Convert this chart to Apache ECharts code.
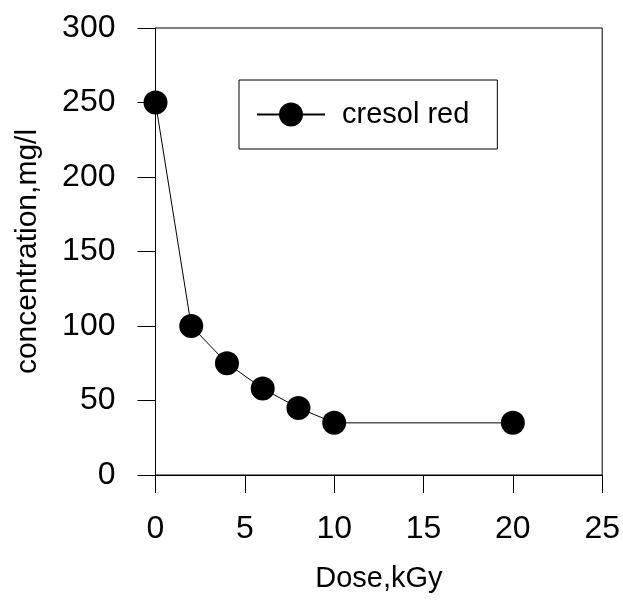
<!DOCTYPE html>
<html>
<head>
<meta charset="utf-8">
<script src="https://cdn.jsdelivr.net/npm/echarts@6/dist/echarts.min.js"></script>
<style>html,body{margin:0;padding:0;background:#fff;}#c{width:623px;height:601px;}</style>
</head>
<body>
<div id="c"></div>
<script>
const doseValues = [0, 2, 4, 6, 8, 10, 20];
const concentrationValues = [250, 100, 75, 58, 45, 35, 35];
const seriesName = 'cresol red';
const xTitle = 'Dose,kGy';
const yTitle = 'concentration,mg/l';

const FONT = '"Liberation Sans", Arial, sans-serif';
const chart = echarts.init(document.getElementById('c'));
chart.setOption({
  animation: false,
  backgroundColor: '#fff',
  grid: { left: 155.5, right: 20, top: 28, bottom: 126, show: true, borderColor: '#000', borderWidth: 1, backgroundColor: 'transparent' },
  legend: {
    left: 239, top: 80,
    orient: 'vertical',
    borderColor: '#000', borderWidth: 1, borderRadius: 0,
    padding: [20, 28, 20, 17],
    itemWidth: 68, itemHeight: 30,
    textStyle: { fontFamily: FONT, fontSize: 29, color: '#000', padding: [0, 0, 0, 12] },
    data: [seriesName]
  },
  xAxis: {
    type: 'value', min: 0, max: 25, interval: 5,
    name: xTitle, nameLocation: 'middle', nameGap: 89,
    nameTextStyle: { fontFamily: FONT, fontSize: 29, color: '#000' },
    axisLine: { onZero: false, lineStyle: { color: '#000', width: 1 } },
    axisTick: { show: true, inside: false, length: 18, lineStyle: { color: '#000' } },
    axisLabel: { fontFamily: FONT, fontSize: 32, color: '#000', margin: 38 },
    splitLine: { show: false }
  },
  yAxis: {
    type: 'value', min: 0, max: 300, interval: 50,
    name: yTitle, nameLocation: 'middle', nameGap: 113,
    nameTextStyle: { fontFamily: FONT, fontSize: 30, color: '#000' },
    axisLine: { onZero: false, lineStyle: { color: '#000', width: 1 } },
    axisTick: { show: true, inside: false, length: 18, lineStyle: { color: '#000' } },
    axisLabel: { fontFamily: FONT, fontSize: 32, color: '#000', margin: 40 },
    splitLine: { show: false }
  },
  series: [{
    name: seriesName,
    type: 'line',
    data: doseValues.map((d, i) => [d, concentrationValues[i]]),
    symbol: 'circle', symbolSize: 24,
    lineStyle: { color: '#000', width: 1 },
    itemStyle: { color: '#000' },
    clip: false
  }]
});
</script>
</body>
</html>
